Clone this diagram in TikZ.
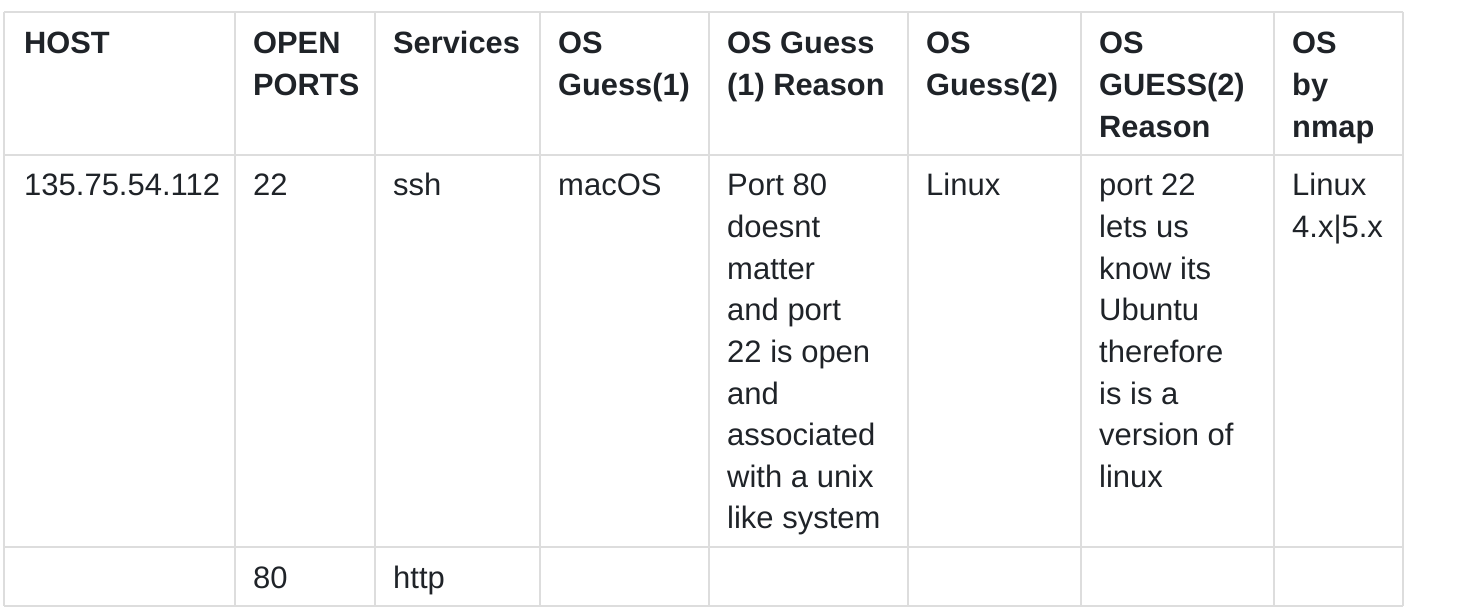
\documentclass[tikz,border=0pt]{standalone}
\usepackage{fontspec}
\setmainfont{Liberation Sans}
\definecolor{gridgray}{HTML}{DDDDDD}
\definecolor{inkdark}{HTML}{1F2328}
\begin{document}
\begin{tikzpicture}[
    x=1pt, y=-1pt,
    % Define styles
    gridline/.style={draw=gridgray, line width=2pt},
    head/.style={anchor=base west, inner sep=0pt, text=inkdark, font=\fontsize{30.8}{41.6}\selectfont\bfseries},
    body/.style={anchor=base west, inner sep=0pt, text=inkdark, font=\fontsize{31}{41.6}\selectfont}
]
\useasboundingbox (0,0) rectangle (1458,612);

% Table rules
\foreach \yy in {12, 155, 547, 606}
    \draw[gridline] (4,\yy) -- (1403,\yy);
\foreach \xx in {4, 235, 375, 540, 709, 908, 1081, 1274, 1403}
    \draw[gridline] (\xx,12) -- (\xx,606);

% Header row
\node[head] (host_head) at (24, 54) {HOST};
\foreach \t [count=\i] in {OPEN, PORTS}
    \node[head] (ports_head\i) at (253, {54+41.6*(\i-1)}) {\t};
\node[head] (services_head) at (393, 54) {Services};
\foreach \t [count=\i] in {OS, Guess(1)}
    \node[head] (guess1_head\i) at (558, {54+41.6*(\i-1)}) {\t};
\foreach \t [count=\i] in {OS Guess, (1) Reason}
    \node[head] (reason1_head\i) at (727, {54+41.6*(\i-1)}) {\t};
\foreach \t [count=\i] in {OS, Guess(2)}
    \node[head] (guess2_head\i) at (926, {54+41.6*(\i-1)}) {\t};
\foreach \t [count=\i] in {OS, GUESS(2), Reason}
    \node[head] (reason2_head\i) at (1099, {54+41.6*(\i-1)}) {\t};
\foreach \t [count=\i] in {OS, by, nmap}
    \node[head] (nmap_head\i) at (1292, {54+41.6*(\i-1)}) {\t};

% First host row
\node[body] (host_ip) at (24, 196) {135.75.54.112};
\node[body] (port_ssh) at (253, 196) {22};
\node[body] (service_ssh) at (393, 196) {ssh};
\node[body] (guess1_os) at (558, 196) {macOS};
\foreach \t [count=\i] in {Port 80, doesnt, matter, and port, 22 is open, and, associated, with a unix, like system}
    \node[body] (reason1_line\i) at (727, {196+41.6*(\i-1)}) {\t};
\node[body] (guess2_os) at (926, 196) {Linux};
\foreach \t [count=\i] in {port 22, lets us, know its, Ubuntu, therefore, is is a, version of, linux}
    \node[body] (reason2_line\i) at (1099, {196+41.6*(\i-1)}) {\t};
\foreach \t [count=\i] in {Linux, 4.x|5.x}
    \node[body] (nmap_line\i) at (1292, {196+41.6*(\i-1)}) {\t};

% Second port row
\node[body] (port_http) at (253, 588) {80};
\node[body] (service_http) at (393, 588) {http};

\end{tikzpicture}
\end{document}
